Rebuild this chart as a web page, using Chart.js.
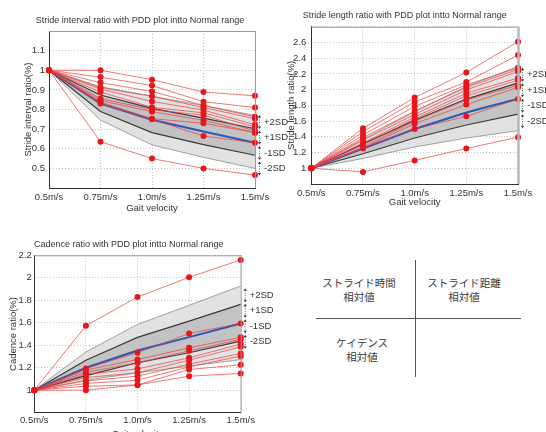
<!DOCTYPE html>
<html>
<head>
<meta charset="utf-8">
<script src="https://cdn.jsdelivr.net/npm/chart.js@4.4.1/dist/chart.umd.min.js"></script>
<style>
html,body{margin:0;padding:0;background:#fff;}
#page{position:relative;width:546px;height:432px;overflow:hidden;}
canvas{position:absolute;}
#cA{left:0;top:0;}
#cB{left:273px;top:0;}
#cC{left:0;top:216px;}
.ln{position:absolute;background:#555;}
.jp{position:absolute;width:100px;text-align:center;font-family:"Noto Sans CJK JP",sans-serif;font-size:10.5px;line-height:13.5px;color:#3a3a3a;}
</style>
</head>
<body>
<div id="page">
  <canvas id="cA" width="290" height="216"></canvas>
  <canvas id="cB" width="273" height="216"></canvas>
  <canvas id="cC" width="273" height="216"></canvas>
  <div class="ln" style="left:415px;top:260px;width:1px;height:117px;"></div>
  <div class="ln" style="left:316px;top:318px;width:205px;height:1px;"></div>
  <div class="jp" style="left:309px;top:276px;">ストライド時間<br>相対値</div>
  <div class="jp" style="left:414px;top:276px;">ストライド距離<br>相対値</div>
  <div class="jp" style="left:312px;top:336px;">ケイデンス<br>相対値</div>
</div>
<script>
var velocities = ['0.5m/s', '0.75m/s', '1.0m/s', '1.25m/s', '1.5m/s'];
var sdLabels = ['+2SD', '+1SD', '-1SD', '-2SD'];

// stride interval ratio - normal range
var siMean = [1, 0.83, 0.748, 0.688, 0.631];
var siP1 = [1, 0.874, 0.806, 0.756, 0.702];
var siM1 = [1, 0.79, 0.682, 0.621, 0.567];
var siP2 = [1, 0.916, 0.868, 0.82, 0.77];
var siM2 = [1, 0.746, 0.62, 0.556, 0.5];
var siPatients = [
  [1, 1.0, 0.952, 0.889, 0.87],
  [1, 0.965, 0.922, 0.84, 0.81],
  [1, 0.937, 0.892, 0.821, 0.763],
  [1, 0.912, 0.867, 0.81, 0.753],
  [1, 0.904, 0.841, 0.797, 0.722],
  [1, 0.889, 0.811, 0.783, 0.712],
  [1, 0.855, 0.80, 0.771, 0.69],
  [1, 0.846, 0.789, 0.745, 0.682],
  [1, 0.838, 0.753, 0.73, 0.682],
  [1, 0.83, 0.75, 0.665, 0.63],
  [1, 0.636, 0.55, 0.50, 0.466]
];
var siHide = [0.4, 1.2];

// stride length ratio - normal range
var slMean = [1, 1.25, 1.5, 1.71, 1.885];
var slP1 = [1, 1.31, 1.61, 1.88, 2.085];
var slM1 = [1, 1.185, 1.385, 1.55, 1.688];
var slP2 = [1, 1.37, 1.72, 2.04, 2.295];
var slM2 = [1, 1.125, 1.27, 1.385, 1.478];
var slPatients = [
  [1, 1.508, 1.90, 2.218, 2.61],
  [1, 1.466, 1.845, 2.097, 2.44],
  [1, 1.424, 1.786, 2.06, 2.277],
  [1, 1.39, 1.727, 2.03, 2.256],
  [1, 1.357, 1.685, 1.996, 2.23],
  [1, 1.32, 1.65, 1.954, 2.147],
  [1, 1.30, 1.626, 1.92, 2.12],
  [1, 1.27, 1.60, 1.87, 2.055],
  [1, 1.256, 1.567, 1.81, 2.03],
  [1, 1.26, 1.50, 1.66, 1.88],
  [1, 0.954, 1.10, 1.252, 1.395]
];
var slHide = [0.8, 2.8];

// cadence ratio - normal range
var cdMean = [1, 1.2, 1.353, 1.472, 1.594];
var cdP1 = [1, 1.267, 1.47, 1.615, 1.763];
var cdM1 = [1, 1.13, 1.244, 1.333, 1.437];
var cdP2 = [1, 1.34, 1.585, 1.755, 1.927];
var cdM2 = [1, 1.09, 1.155, 1.214, 1.273];
var cdPatients = [
  [1, 1.573, 1.829, 2.004, 2.159],
  [1, 1.193, 1.333, 1.505, 1.594],
  [1, 1.18, 1.273, 1.377, 1.47],
  [1, 1.16, 1.243, 1.35, 1.452],
  [1, 1.143, 1.19, 1.288, 1.41],
  [1, 1.113, 1.154, 1.267, 1.386],
  [1, 1.083, 1.125, 1.232, 1.327],
  [1, 1.06, 1.089, 1.208, 1.303],
  [1, 1.036, 1.047, 1.184, 1.226],
  [1, 1.0, 1.047, 1.125, 1.149]
];
var cdHide = [0.8];

Chart.defaults.font.family = '"Liberation Sans", Arial, sans-serif';
Chart.defaults.color = '#333';

function subjectSet(arr){
  return {
    data: arr,
    borderColor: 'rgba(236,60,60,0.7)',
    borderWidth: 1,
    pointRadius: 3,
    pointBackgroundColor: '#e8161b',
    pointBorderWidth: 0,
    fill: false
  }
}
function lineSet(arr, color, width){
  return {data: arr, borderColor: color, borderWidth: width, pointRadius: 0, fill: false}
}
function buildSets(patients, mean, p1, m1, p2, m2){
  var n = patients.length;
  var sets = patients.map(subjectSet);
  sets.push(lineSet(mean, '#2a58b8', 2));
  sets.push(Object.assign(lineSet(p1, '#3a3a3a', 1.2), {fill: n + 2, backgroundColor: '#c3c3c3'}));
  sets.push(lineSet(m1, '#3a3a3a', 1.2));
  sets.push(Object.assign(lineSet(p2, '#a0a0a0', 1), {fill: n + 4, backgroundColor: '#e2e2e2'}));
  sets.push(lineSet(m2, '#a0a0a0', 1));
  return sets;
}

// gray box round the plot
const frame = {
  id: 'frame',
  afterDraw(chart, args, opts){
    const a = chart.chartArea, ctx = chart.ctx;
    ctx.save();
    ctx.strokeStyle = '#9a9a9a';
    ctx.lineWidth = 1;
    ctx.beginPath();
    ctx.moveTo(a.left, a.top + 0.5); ctx.lineTo(a.right + 0.5, a.top + 0.5);
    ctx.stroke();
    ctx.strokeStyle = opts.rightColor || '#9a9a9a';
    ctx.lineWidth = opts.rightWidth || 1;
    ctx.beginPath();
    ctx.moveTo(a.right + 0.5, a.top); ctx.lineTo(a.right + 0.5, a.bottom);
    ctx.stroke();
    ctx.restore();
  }
};

// +2SD/+1SD/-1SD/-2SD brackets on the right
const sdNotes = {
  id: 'sdNotes',
  afterDraw(chart, args, opts){
    const ys = chart.scales.y, a = chart.chartArea, ctx = chart.ctx;
    const last = velocities.length - 1;
    let y0 = (ys.getPixelForValue(opts.p2[last]) + ys.getPixelForValue(opts.p1[last])) / 2;
    let x = a.right + 4.5;
    ctx.save();
    ctx.font = '9.5px "Liberation Sans", Arial, sans-serif';
    ctx.fillStyle = '#333';
    ctx.strokeStyle = '#333';
    ctx.textBaseline = 'middle';
    sdLabels.forEach(function(t, i){
      let y = y0 + i * 15.5;
      ctx.lineWidth = 0.8;
      ctx.setLineDash([1, 1.5]);
      ctx.beginPath(); ctx.moveTo(x, y - 5); ctx.lineTo(x, y + 5); ctx.stroke();
      ctx.setLineDash([]);
      ctx.beginPath(); ctx.moveTo(x - 1.6, y - 4.5); ctx.lineTo(x, y - 7); ctx.lineTo(x + 1.6, y - 4.5); ctx.closePath(); ctx.fill();
      ctx.beginPath(); ctx.moveTo(x - 1.6, y + 4.5); ctx.lineTo(x, y + 7); ctx.lineTo(x + 1.6, y + 4.5); ctx.closePath(); ctx.fill();
      ctx.fillText(t, a.right + 9, y);
    });
    ctx.restore();
  }
};

function makeChart(id, c){
  return new Chart(document.getElementById(id), {
    type: 'line',
    data: {labels: velocities, datasets: buildSets(c.patients, c.mean, c.p1, c.m1, c.p2, c.m2)},
    plugins: [frame, sdNotes],
    options: {
      responsive: false,
      animation: false,
      elements: {line: {tension: 0}},
      layout: {padding: {left: c.padL, right: c.padR, top: 0, bottom: 0}},
      plugins: {
        legend: {display: false},
        tooltip: {enabled: false},
        filler: {drawTime: 'beforeDatasetsDraw'},
        title: {
          display: true, text: c.title, color: '#333',
          font: {size: 9, weight: 'normal'},
          padding: {top: c.titleTop, bottom: c.titleBottom}
        },
        frame: {rightWidth: c.rightWidth, rightColor: c.rightColor},
        sdNotes: {p1: c.p1, p2: c.p2}
      },
      scales: {
        x: {
          afterFit: function(s){ s.height = c.xH; },
          grid: {color: '#c4c4c4', drawTicks: false},
          border: {color: '#333', dash: [1, 2]},
          ticks: {font: {size: 9.5}, padding: c.xTickPad, maxRotation: 0, autoSkip: false},
          title: {display: true, text: 'Gait velocity', font: {size: 9.5}, padding: {top: 0, bottom: c.xTitlePad}}
        },
        y: {
          min: c.min, max: c.max,
          afterFit: function(s){ s.width = c.yW; },
          grid: {color: '#c4c4c4', drawTicks: false},
          border: {color: '#333', dash: [1, 2]},
          ticks: {
            stepSize: c.step, font: {size: 9.5}, padding: c.yTickPad, autoSkip: false,
            callback: function(v){
              var r = Math.round(v * 100) / 100;
              return c.hide.indexOf(r) >= 0 ? '' : String(r);
            }
          },
          title: {display: true, text: c.yTitle, font: {size: 9.5}, padding: {top: c.yTitlePad, bottom: 0}}
        }
      }
    }
  });
}

makeChart('cA', {
  title: 'Stride interval ratio with PDD plot intto Normal range',
  yTitle: 'Stride interval ratio(%)',
  patients: siPatients, mean: siMean, p1: siP1, m1: siM1, p2: siP2, m2: siM2,
  min: 0.4, max: 1.2, step: 0.1, hide: siHide,
  padL: 25, padR: 35, yW: 24, xH: 28,
  titleTop: 15.6, titleBottom: 4.6, yTitlePad: -2.2, yTickPad: 4, xTickPad: 3.3, xTitlePad: 2.3
});
makeChart('cB', {
  title: 'Stride length ratio with PDD plot intto Normal range',
  yTitle: 'Stride length ratio(%)',
  patients: slPatients, mean: slMean, p1: slP1, m1: slM1, p2: slP2, m2: slM2,
  min: 0.8, max: 2.8, step: 0.2, hide: slHide,
  padL: 18.4, padR: 28, yW: 19.9, xH: 32,
  rightWidth: 2.5, rightColor: '#b8b8b8',
  titleTop: 10.3, titleBottom: 5.6, yTitlePad: -6.1, yTickPad: 5, xTickPad: 3.3, xTitlePad: 8.3
});
makeChart('cC', {
  title: 'Cadence ratio with PDD plot intto Normal range',
  yTitle: 'Cadence ratio(%)',
  patients: cdPatients, mean: cdMean, p1: cdP1, m1: cdM1, p2: cdP2, m2: cdM2,
  min: 0.8, max: 2.2, step: 0.2, hide: cdHide,
  padL: 16.9, padR: 32.3, yW: 17.4, xH: 19.3,
  titleTop: 23.6, titleBottom: 4.9, yTitlePad: -9.3, yTickPad: 2.5, xTickPad: 1.6, xTitlePad: -7.7
});
</script>
</body>
</html>
